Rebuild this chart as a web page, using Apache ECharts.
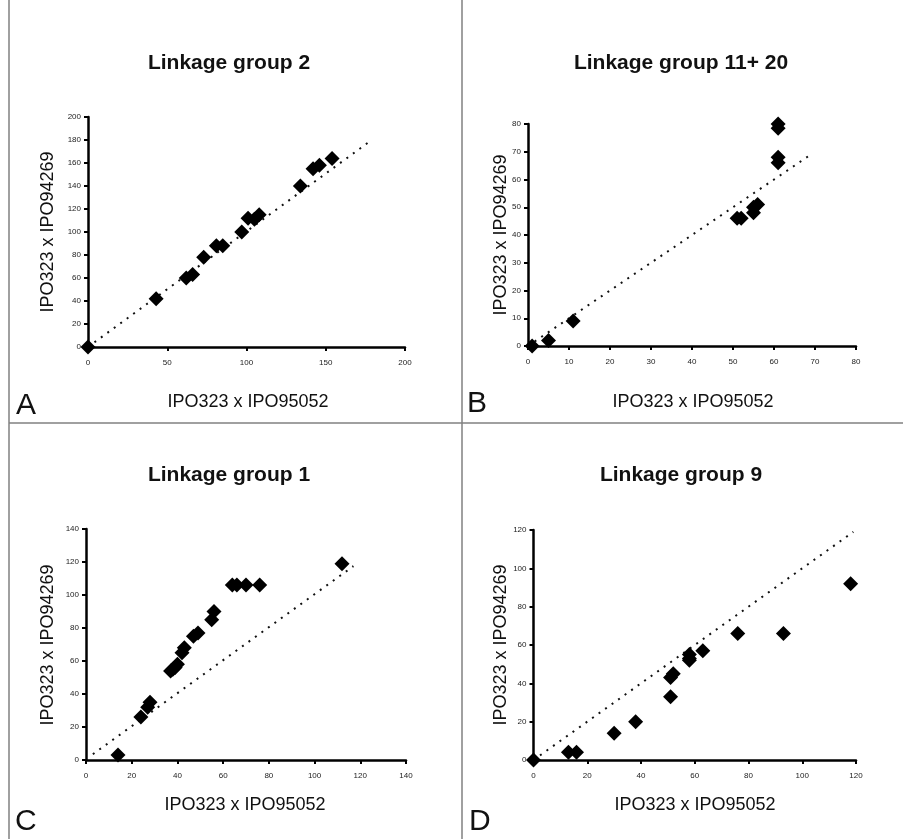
<!DOCTYPE html>
<html><head><meta charset="utf-8">
<script src="https://cdn.jsdelivr.net/npm/echarts@6/dist/echarts.min.js"></script>
<style>html,body{margin:0;padding:0;background:#fff}#c{width:903px;height:839px}</style>
</head><body><div id="c"></div>
<script>
// Panel titles and letters
const titles = ["Linkage group 2", "Linkage group 11+ 20", "Linkage group 1", "Linkage group 9"];
const letters = ["A", "B", "C", "D"];
const xTitle = "IPO323 x IPO95052";
const yTitle = "IPO323 x IPO94269";

// Panel A
const A_x = [0, 43, 62, 66, 73, 81, 85, 97, 101, 105, 108, 134, 142, 146, 154];
const A_y = [0, 42, 60, 63, 78, 88, 88, 100, 112, 111, 115, 140, 155, 158, 164];
const A_trend_x = [0, 178];
const A_trend_y = [0, 179];
// Panel B
const B_x = [1, 5, 11, 51, 52, 55, 55, 56, 61, 61, 61, 61];
const B_y = [0, 2, 9, 46, 46, 48, 50, 51, 66, 68, 78.5, 80];
const B_trend_x = [0, 69];
const B_trend_y = [0, 69];
// Panel C
const C_x = [14, 24, 27, 28, 37, 38, 39, 40, 42, 43, 47, 49, 55, 56, 64, 66, 70, 76, 112];
const C_y = [3, 26, 32, 35, 54, 55, 56, 58, 65, 68, 75, 77, 85, 90, 106, 106, 106, 106, 119];
const C_trend_x = [3, 117];
const C_trend_y = [3.5, 117.5];
// Panel D
const D_x = [0, 13, 16, 30, 38, 51, 51, 52, 58, 58, 58, 63, 76, 93, 118];
const D_y = [0, 4, 4, 14, 20, 33, 43, 45, 52, 53, 55, 57, 66, 66, 92];
const D_trend_x = [0, 119];
const D_trend_y = [0, 119];

// Axis ranges: [max, interval] for x and y
const axisX = [[200, 50], [80, 10], [140, 20], [120, 20]];
const axisY = [[200, 20], [80, 10], [140, 20], [120, 20]];

const FONT = '"Liberation Sans", Arial, sans-serif';
const grids = [
  {left: 88, top: 117, width: 317, height: 230},
  {left: 528, top: 124, width: 328, height: 222},
  {left: 86, top: 529, width: 320, height: 231},
  {left: 533.5, top: 530, width: 322.5, height: 230}
];
const pts = [[A_x, A_y], [B_x, B_y], [C_x, C_y], [D_x, D_y]];
const trends = [[A_trend_x, A_trend_y], [B_trend_x, B_trend_y], [C_trend_x, C_trend_y], [D_trend_x, D_trend_y]];
const zip = (xs, ys) => xs.map((v, i) => [v, ys[i]]);

function mkAxis(i, range, isX) {
  return {
    type: 'value', gridIndex: i, min: 0, max: range[0], interval: range[1],
    axisLine: {show: true, onZero: false, lineStyle: {color: '#000', width: 2.5}},
    axisTick: {show: true, inside: false, length: 4, lineStyle: {color: '#000', width: 2}},
    splitLine: {show: false},
    axisLabel: {fontSize: 8, color: '#222', fontFamily: FONT, margin: isX ? 12 : 7}
  };
}

const series = [];
for (let i = 0; i < 4; i++) {
  series.push({
    type: 'line', xAxisIndex: i, yAxisIndex: i, data: zip(trends[i][0], trends[i][1]),
    showSymbol: false, symbol: 'none', silent: true, z: 1,
    lineStyle: {color: '#111', width: 2, type: [2, 6]}
  });
  series.push({
    type: 'scatter', xAxisIndex: i, yAxisIndex: i, data: zip(pts[i][0], pts[i][1]),
    symbol: 'diamond', symbolSize: 15, itemStyle: {color: '#000', opacity: 1}, z: 3
  });
}

// layout of text per panel
const titlePos = [[229, 63], [681, 63], [229, 475], [681, 475]];
const xTitlePos = [[248, 402], [693, 402], [245, 805], [695, 805]];
const yTitlePos = [[48, 232], [501, 235], [48, 645], [501, 645]];
const letterPos = [[16, 421], [467, 419], [15, 837], [469, 837]];

const graphic = [];
const lc = '#808080';
graphic.push({type: 'line', shape: {x1: 9, y1: 0, x2: 9, y2: 839}, style: {stroke: lc, lineWidth: 1.5}});
graphic.push({type: 'line', shape: {x1: 462, y1: 0, x2: 462, y2: 839}, style: {stroke: lc, lineWidth: 1.5}});
graphic.push({type: 'line', shape: {x1: 9, y1: 423, x2: 903, y2: 423}, style: {stroke: lc, lineWidth: 1.5}});
for (let i = 0; i < 4; i++) {
  graphic.push({type: 'text', x: titlePos[i][0], y: titlePos[i][1],
    style: {text: titles[i], font: 'bold 21px ' + FONT, fill: '#111', align: 'center', verticalAlign: 'middle'}});
  graphic.push({type: 'text', x: xTitlePos[i][0], y: xTitlePos[i][1],
    style: {text: xTitle, font: '18px ' + FONT, fill: '#111', align: 'center', verticalAlign: 'middle'}});
  graphic.push({type: 'text', x: yTitlePos[i][0], y: yTitlePos[i][1], rotation: Math.PI / 2,
    style: {text: yTitle, font: '18px ' + FONT, fill: '#111', align: 'center', verticalAlign: 'middle'}});
  graphic.push({type: 'text', x: letterPos[i][0], y: letterPos[i][1],
    style: {text: letters[i], font: '30px ' + FONT, fill: '#111', align: 'left', verticalAlign: 'bottom'}});
}

const chart = echarts.init(document.getElementById('c'), null, {renderer: 'canvas'});
chart.setOption({
  animation: false,
  backgroundColor: '#fff',
  grid: grids,
  xAxis: [0, 1, 2, 3].map(i => mkAxis(i, axisX[i], true)),
  yAxis: [0, 1, 2, 3].map(i => mkAxis(i, axisY[i], false)),
  series: series,
  graphic: graphic
});
</script></body></html>
